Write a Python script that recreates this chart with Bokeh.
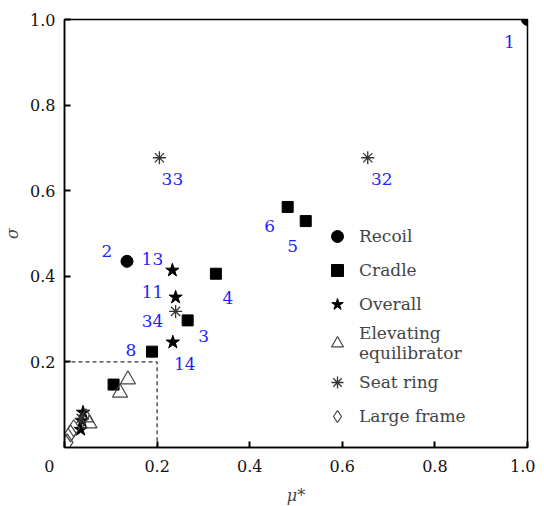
from bokeh.plotting import figure
from bokeh.models import Range1d, FixedTicker, Legend, LegendItem, ColumnDataSource
from bokeh.core.properties import value
from bokeh.embed import file_html
from bokeh.resources import INLINE

# ---- data ----
recoil_x = [1.0, 0.135]
recoil_y = [1.0, 0.435]
cradle_x = [0.327, 0.266, 0.189, 0.482, 0.521, 0.106]
cradle_y = [0.406, 0.297, 0.224, 0.562, 0.529, 0.147]
overall_x = [0.233, 0.240, 0.234, 0.040, 0.038, 0.035]
overall_y = [0.414, 0.351, 0.246, 0.082, 0.062, 0.042]
elev_x = [0.137, 0.120, 0.054, 0.046]
elev_y = [0.159, 0.128, 0.056, 0.070]
seat_x = [0.205, 0.655, 0.240, 0.036]
seat_y = [0.677, 0.677, 0.318, 0.068]
frame_x = [0.006, 0.013, 0.020]
frame_y = [0.012, 0.033, 0.045]

# point labels (attached to the points above)
lab_text = ["1", "2", "13", "11", "34", "8", "3", "4", "14", "6", "5", "33", "32"]
lab_x = [1.0, 0.135, 0.233, 0.240, 0.240, 0.189, 0.266, 0.327, 0.234, 0.482, 0.521, 0.205, 0.655]
lab_y = [1.0, 0.435, 0.414, 0.351, 0.318, 0.224, 0.297, 0.406, 0.246, 0.562, 0.529, 0.677, 0.677]
lab_dx = [-18, -20, -20, -23, -23, -21, 16, 12, 12, -18, -13, 13, 14]
lab_dy = [22, -10, -11, -5, 10, -2, 16, 24, 22, 19, 25, 21, 21]

x_ticks = [0.0, 0.2, 0.4, 0.6, 0.8, 1.0]
x_tick_labels = ["0\u00a0\u00a0\u00a0\u00a0\u00a0\u00a0", "0.2", "0.4", "0.6", "0.8", "1.0"]
y_ticks = [0.2, 0.4, 0.6, 0.8, 1.0]
y_tick_labels = ["0.2", "0.4", "0.6", "0.8", "1.0"]
box_limit = 0.2

SERIF = "DejaVu Serif"
FS = "16px"

p = figure(frame_width=463, frame_height=428, output_backend="svg", toolbar_location=None,
           x_range=Range1d(0, 1), y_range=Range1d(0, 1),
           min_border_left=57, min_border_right=8, min_border_top=19, min_border_bottom=50)
p.grid.visible = False
p.outline_line_color = "black"
p.outline_line_width = 1.5
p.background_fill_color = "white"
p.border_fill_color = "white"

p.xaxis[0].ticker = FixedTicker(ticks=x_ticks)
p.xaxis[0].major_label_overrides = dict(zip(x_ticks, x_tick_labels))
p.yaxis[0].ticker = FixedTicker(ticks=y_ticks)
p.yaxis[0].major_label_overrides = dict(zip(y_ticks, y_tick_labels))

for ax in (p.xaxis[0], p.yaxis[0]):
    ax.major_tick_in = 6
    ax.major_tick_out = 0
    ax.minor_tick_line_color = None
    ax.major_tick_line_width = 2
    ax.axis_line_width = 1.5
    ax.axis_line_color = "black"
    ax.major_label_text_font = SERIF
    ax.major_label_text_font_size = FS
    ax.major_label_text_color = "#111111"
    ax.axis_label_text_font = SERIF
    ax.axis_label_text_font_size = FS
    ax.axis_label_text_font_style = "italic"
    ax.major_label_standoff = 9

p.xaxis.axis_label = "μ*"
p.yaxis.axis_label = "σ"
p.xaxis.axis_label_standoff = 7
p.yaxis.axis_label_standoff = 5

# dashed reference box
p.line([0, box_limit, box_limit], [box_limit, box_limit, 0], line_dash="4 3",
       line_color="black", line_width=1)

r_rec = p.scatter(recoil_x, recoil_y, marker="circle", size=12, color="black")
r_cra = p.scatter(cradle_x, cradle_y, marker="square", size=11, color="black")
r_ove = p.scatter(overall_x, overall_y, marker="star", size=14, color="black")
r_ele = p.scatter(elev_x, elev_y, marker="triangle", size=15, fill_color=None,
                  line_color="#444444", line_width=1.2)
r_sea = p.scatter(seat_x, seat_y, marker="asterisk", size=13, line_color="#333333", line_width=1.3)
r_fra = p.scatter(frame_x, frame_y, marker="diamond", size=17, fill_color=None,
                  line_color="#444444", line_width=1.2)

src = ColumnDataSource(dict(x=lab_x, y=lab_y, t=lab_text, dx=lab_dx, dy=lab_dy))
p.text(x="x", y="y", text="t", x_offset="dx", y_offset="dy", source=src,
       text_font=value(SERIF), text_font_size="17px", text_color="#1f1fff",
       text_align="center", text_baseline="middle")

legend = Legend(items=[
    LegendItem(label="Recoil", renderers=[r_rec]),
    LegendItem(label="Cradle", renderers=[r_cra]),
    LegendItem(label="Overall", renderers=[r_ove]),
    LegendItem(label="Elevating\nequilibrator", renderers=[r_ele]),
    LegendItem(label="Seat ring", renderers=[r_sea]),
    LegendItem(label="Large frame", renderers=[r_fra]),
], location=(258, 16), padding=0, margin=0, border_line_color=None,
    background_fill_alpha=0, label_text_font=SERIF, label_text_font_size="17px",
    label_height=20, glyph_height=30, glyph_width=30, label_standoff=7, spacing=4)
p.add_layout(legend)

open("out.html", "w").write(file_html(p, INLINE))
